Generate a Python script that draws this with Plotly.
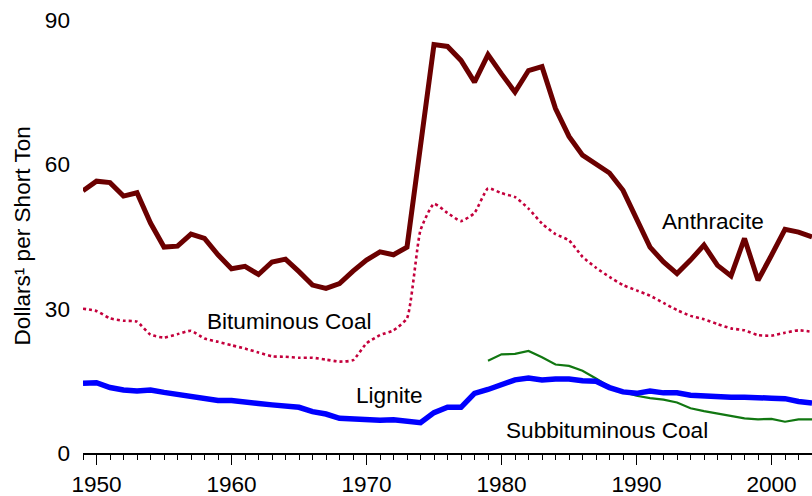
import plotly.graph_objects as go

years = list(range(1949, 2004))

anthracite = [54.5, 56.5, 56.2, 53.4, 54.1, 47.8, 42.8, 43.0, 45.5, 44.6,
              41.2, 38.3, 38.8, 37.1, 39.7, 40.3, 37.7, 34.9, 34.2, 35.2,
              37.8, 40.1, 41.8, 41.2, 42.8, 64.0, 84.9, 84.5, 81.6, 77.1,
              82.8, 78.8, 75.0, 79.5, 80.3, 71.6, 65.8, 61.9, 60.0, 58.2,
              54.6, 48.4, 42.8, 39.7, 37.3, 40.1, 43.2, 39.0, 36.8, 44.6,
              35.9, 41.1, 46.5, 45.9, 44.9]

bituminous = [30.0, 29.5, 28.0, 27.5, 27.3, 24.6, 24.0, 24.7, 25.4, 23.8,
              23.1, 22.4, 21.7, 20.9, 20.1, 20.0, 19.8, 19.8, 19.4, 19.0,
              19.3, 22.8, 24.5, 25.5, 28.0, 46.3, 51.8, 49.9, 48.2, 49.9,
              55.0, 54.0, 53.2, 50.8, 47.7, 45.5, 44.2, 40.8, 38.5, 36.6,
              34.9, 33.8, 32.7, 31.2, 29.7, 28.5, 27.8, 26.8, 25.9, 25.5,
              24.5, 24.4, 25.0, 25.5, 25.2]

lignite = [14.5, 14.6, 13.6, 13.1, 12.9, 13.1, 12.6, 12.2, 11.7, 11.5,
           10.9, 10.9, 10.5, 10.3, 10.0, 9.7, 9.5, 8.6, 8.1, 7.2,
           7.1, 6.8, 6.8, 6.9, 6.6, 6.3, 8.4, 9.5, 9.5, 12.4,
           13.2, 14.3, 15.2, 15.6, 15.2, 15.4, 15.4, 15.0, 14.9, 13.6,
           12.7, 12.4, 12.9, 12.5, 12.5, 12.0, 11.8, 11.7, 11.6, 11.6,
           11.4, 11.4, 11.3, 10.7, 10.4]

sub_years = list(range(1979, 2004))
subbituminous = [19.2, 20.5, 20.6, 21.2, 19.9, 18.4, 18.1, 17.1, 15.5, 13.8,
                 12.7, 11.9, 11.4, 11.1, 10.5, 9.3, 8.7, 8.2, 7.7, 7.2,
                 7.0, 7.1, 6.5, 7.0, 7.0]

labels = ["Anthracite", "Bituminous Coal", "Lignite", "Subbituminous Coal"]
label_x = [1995.7, 1964.3, 1971.7, 1987.8]
label_y = [48.2, 27.3, 12.0, 4.7]

FONT = "Liberation Sans, Arial, sans-serif"
FS = 22.6

fig = go.Figure()
fig.add_trace(go.Scatter(x=years, y=bituminous, mode="lines",
                         line=dict(color="#C4003C", width=2.6, dash="3px,3px",
                                   shape="spline", smoothing=0.5)))
fig.add_trace(go.Scatter(x=sub_years, y=subbituminous, mode="lines",
                         line=dict(color="#117711", width=2.2)))
fig.add_trace(go.Scatter(x=years, y=lignite, mode="lines",
                         line=dict(color="#0000FF", width=5.5)))
fig.add_trace(go.Scatter(x=years, y=anthracite, mode="lines",
                         line=dict(color="#6B0000", width=5)))

for t, x, y in zip(labels, label_x, label_y):
    fig.add_annotation(x=x, y=y, text=t, showarrow=False,
                       font=dict(family=FONT, size=FS, color="#000000"),
                       xanchor="center", yanchor="middle")

fig.add_annotation(xref="paper", yref="paper", x=-61/729, y=0.5,
                   text="Dollars\u00b9 per Short Ton", textangle=-90,
                   showarrow=False, xanchor="center", yanchor="middle",
                   font=dict(family=FONT, size=FS, color="#000000"))

fig.update_layout(
    width=812, height=496,
    margin=dict(l=83, r=0, t=19.5, b=43),
    paper_bgcolor="white", plot_bgcolor="white",
    showlegend=False,
    font=dict(family=FONT, size=FS, color="#000000"),
    xaxis=dict(range=[1949, 2003], showgrid=False, zeroline=False,
               showline=True, linecolor="black", linewidth=2,
               ticks="outside", ticklen=10, tickwidth=1, tickcolor="black",
               tick0=1950, dtick=10,
               minor=dict(dtick=1, tick0=1949, ticks="outside", ticklen=5,
                          tickwidth=1, tickcolor="black", showgrid=False)),
    yaxis=dict(range=[0, 90], showgrid=False, zeroline=False, showline=False,
               tickvals=[0, 30, 60, 90], ticks="", ticklabelstandoff=12),
)

fig.write_html("out.html", config={"displayModeBar": False},
               post_script="document.body.style.margin='0';document.body.style.overflow='hidden';")
